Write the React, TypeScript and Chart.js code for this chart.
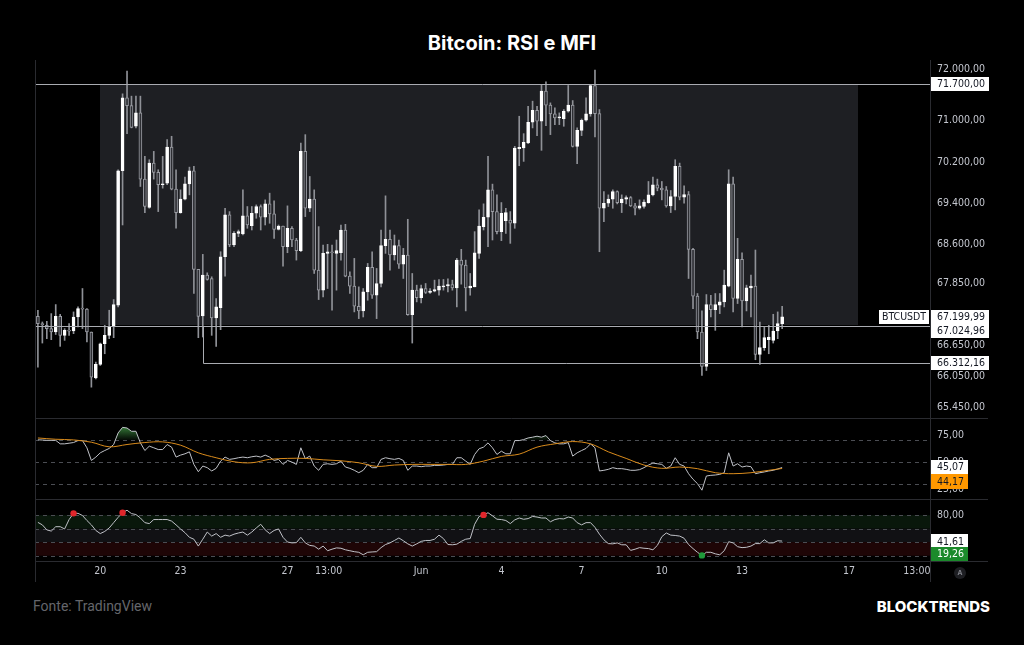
import React, { useEffect, useRef } from 'react';
import { Chart, registerables } from 'chart.js';

Chart.register(...registerables);

// ---------- DATA (4h candles, hour offset from 17 May 00:00) ----------
const START_HOUR = 16;
const STEP_HOURS = 4;

const opens = [
  67212, 67070, 67037, 66973, 66908, 67212, 66843, 66940, 66927, 67199,
  67361, 67350, 66908, 66021, 66280, 66681, 66843, 67018, 67426, 70030,
  71441, 71292, 70891, 71150, 69868, 69320, 70178, 69997, 69758, 69790,
  70489, 69673, 69220, 69479, 69777, 70030, 68119, 67219, 68009, 67944,
  67180, 67381, 68365, 69175, 68592, 68818, 68805, 69155, 68967, 69207,
  69337, 69129, 69389, 69194, 68896, 68961, 68559, 68916, 68689, 68482,
  70405, 69304, 69479, 68106, 67718, 68430, 68462, 68430, 68443, 68883,
  67990, 67795, 67407, 67316, 67685, 68158, 67620, 67847, 68579, 68702,
  68398, 68579, 68223, 68398, 67245, 67718, 67575, 67750, 67672, 67698,
  67718, 67782, 67802, 67828, 67763, 68300, 68203, 67763, 67782, 68430,
  68948, 69129, 69660, 69239, 68851, 69064, 69077, 69013, 70457, 70470,
  70567, 70969, 71202, 70988, 71571, 71299, 71130, 71053, 71040, 71182,
  71299, 70502, 70813, 71008, 71130, 71681, 71137, 69304, 69401, 69479,
  69628, 69414, 69479, 69511, 69350, 69304, 69337, 69414, 69563, 69758,
  69693, 69660, 69350, 69531, 70114, 69518, 69570, 68508, 67601, 66908,
  66241, 67439, 67342, 67426, 67491, 67795, 69777, 67556, 68313, 67510,
  67763, 67795, 66474, 66604, 66759, 66746, 66927, 67070,
];
const highs = [
  67329, 67102, 67115, 67264, 67439, 67250, 66973, 67070, 67297, 67394,
  67750, 67361, 66908, 66325, 66694, 67037, 67329, 67536, 70049, 71519,
  71959, 71474, 71474, 71474, 70308, 70243, 70405, 70049, 70308, 70632,
  70697, 70049, 69660, 69906, 70100, 70114, 68119, 68411, 68054, 67977,
  67556, 68462, 69304, 69239, 68851, 68883, 69660, 69337, 69337, 69369,
  69369, 69466, 69596, 69447, 68980, 68961, 69350, 68948, 68721, 70567,
  70729, 69919, 69660, 68948, 68592, 68605, 68592, 68689, 68980, 68993,
  68074, 68333, 67782, 67750, 68236, 68462, 68139, 68883, 69544, 68883,
  68786, 68689, 68527, 69090, 68041, 67815, 67815, 67847, 67750, 67912,
  67925, 67925, 67938, 67912, 68333, 68508, 68300, 68041, 68851, 69272,
  69389, 70308, 69771, 69563, 69414, 69304, 69239, 70502, 71085, 70748,
  71279, 71377, 71279, 71700, 71752, 71344, 71247, 71150, 71215, 71681,
  71389, 70859, 71033, 71441, 71700, 71979, 71215, 69628, 69563, 69660,
  69641, 69563, 69544, 69531, 69401, 69466, 69466, 69822, 69906, 69868,
  69822, 69725, 69647, 70243, 70178, 69738, 69628, 68527, 67653, 67316,
  67633, 67620, 67653, 67653, 68106, 70049, 69906, 68721, 68443, 67815,
  68009, 68495, 67102, 67005, 67037, 67251, 67297, 67407,
];
const lows = [
  66228, 66694, 66779, 66759, 66860, 66630, 66746, 66843, 66876, 67005,
  66973, 66714, 65840, 66001, 66260, 66487, 66779, 66798, 67394, 68980,
  70748, 70860, 70860, 69725, 69220, 69304, 69868, 69239, 69693, 69758,
  69660, 68916, 69207, 69466, 69563, 67653, 66798, 66811, 67912, 66843,
  66630, 66953, 67990, 68559, 68559, 68754, 68786, 68916, 68883, 69110,
  68883, 68980, 69013, 68721, 68883, 68184, 68443, 68559, 68300, 68462,
  69142, 69239, 68041, 67536, 67588, 67750, 67329, 67718, 68300, 67977,
  67653, 67297, 67167, 67199, 67523, 67556, 67167, 67782, 68430, 68106,
  68300, 68139, 67944, 67232, 66694, 67491, 67470, 67653, 67653, 67685,
  67620, 67718, 67685, 67718, 67394, 67834, 67316, 67620, 67782, 68333,
  68883, 68559, 68689, 68805, 68676, 68818, 68624, 68916, 70127, 70211,
  70554, 70859, 70709, 70425, 70904, 70729, 70923, 70923, 70891, 71163,
  70489, 70165, 70710, 70988, 71085, 70684, 68462, 69045, 69337, 69304,
  69388, 69220, 69388, 69337, 69175, 69285, 69304, 69401, 69544, 69641,
  69466, 69324, 69220, 69272, 69466, 69401, 67944, 67361, 66779, 66066,
  66163, 67199, 66940, 67264, 67394, 67782, 67297, 67459, 67005, 67316,
  67199, 66371, 66280, 66552, 66487, 66694, 66779, 66973,
];
const closes = [
  67070, 67050, 66973, 66908, 67212, 66843, 66940, 66925, 67199, 67361,
  67350, 66908, 66034, 66280, 66681, 66843, 67018, 67439, 70030, 71441,
  71292, 70870, 71150, 69868, 69337, 70178, 69997, 69758, 69777, 70489,
  69673, 69220, 69479, 69777, 70030, 68119, 67212, 68009, 67925, 67180,
  67394, 68365, 69175, 68592, 68818, 68851, 69155, 68980, 69207, 69337,
  69129, 69389, 69194, 68896, 68961, 68559, 68916, 68689, 68482, 70405,
  69304, 69479, 68106, 67718, 68430, 68462, 68443, 68482, 68883, 67990,
  67795, 67407, 67316, 67685, 68158, 67620, 67847, 68579, 68702, 68398,
  68579, 68223, 68398, 67245, 67718, 67575, 67750, 67672, 67698, 67730,
  67795, 67802, 67828, 67763, 68300, 68203, 67763, 67795, 68443, 68961,
  69129, 69660, 69239, 68851, 69207, 69220, 69013, 70470, 70483, 70580,
  70969, 71202, 70988, 71571, 71299, 71130, 71053, 71072, 71182, 71299,
  70502, 70813, 71008, 71130, 71681, 71137, 69304, 69401, 69479, 69628,
  69414, 69479, 69511, 69350, 69304, 69350, 69421, 69563, 69758, 69693,
  69660, 69350, 69531, 70114, 69518, 69570, 68508, 67601, 66908, 66241,
  67439, 67342, 67439, 67491, 67815, 69777, 67556, 68313, 67510, 67763,
  67795, 66474, 66604, 66798, 66811, 66927, 67070, 67199.99,
];

const rsiValues = [
  70.4, 70.2, 69.9, 69.9, 69.9, 66.7, 66.7, 67.3, 67.9, 69.7,
  69.7, 63.1, 51.5, 54.6, 58.5, 60.6, 62.5, 66.1, 76.7, 81.8,
  81.2, 78.2, 78.2, 67.6, 60.6, 64.6, 63.1, 61.5, 61.5, 66.1,
  63.7, 54.6, 56.4, 57.6, 59.4, 47.9, 41.2, 46.4, 44.9, 41.9,
  44.3, 50.9, 54.6, 52.5, 53.1, 54.0, 54.6, 54.0, 54.9, 55.5,
  54.6, 56.4, 54.6, 51.5, 52.5, 47.9, 51.5, 50.0, 47.9, 63.1,
  53.1, 55.5, 46.4, 42.5, 47.9, 48.5, 47.9, 48.5, 50.9, 45.5,
  44.3, 42.5, 40.3, 42.5, 47.9, 44.9, 44.9, 52.5, 54.0, 53.1,
  52.5, 53.4, 51.5, 42.5, 46.4, 46.4, 45.8, 46.4, 46.4, 47.0,
  47.0, 47.3, 47.9, 47.9, 54.0, 54.0, 50.9, 47.9, 57.0, 62.2,
  63.7, 67.6, 63.1, 57.0, 60.0, 57.6, 57.6, 69.7, 69.7, 70.6,
  72.1, 72.8, 73.7, 72.8, 74.3, 69.7, 67.6, 66.7, 66.7, 67.9,
  55.5, 58.5, 60.6, 62.5, 66.7, 63.1, 41.9, 42.5, 43.4, 44.9,
  44.0, 44.0, 43.4, 42.5, 42.5, 43.1, 44.9, 47.3, 49.1, 48.5,
  47.9, 44.3, 46.4, 54.0, 47.9, 46.4, 39.4, 34.3, 30.3, 24.3,
  37.3, 37.9, 38.2, 38.8, 40.3, 58.5, 46.4, 48.5, 45.5, 46.4,
  45.8, 39.4, 40.3, 41.0, 41.9, 42.5, 43.7, 45.07,
];
const rsiMaIndex = [
  0, 4, 8, 12, 16, 20, 24, 28, 32, 36, 40, 44, 48, 52, 56, 60, 64, 68, 72, 76, 80,
  84, 88, 92, 96, 100, 104, 108, 112, 116, 120, 124, 128, 132, 136, 140, 144, 148,
  152, 156, 160, 164, 167,
];
const rsiMaValues = [
  72.1, 70.9, 70.3, 68.2, 64.0, 66.1, 67.9, 68.5, 65.5, 58.5, 54.0, 50.3, 49.4, 52.5,
  53.4, 53.4, 52.1, 51.2, 49.4, 46.1, 47.3, 47.9, 47.9, 47.9, 47.9, 50.9, 55.2, 57.3,
  63.7, 66.7, 68.8, 66.7, 59.4, 53.4, 47.3, 44.3, 45.5, 44.0, 40.3, 39.4, 40.3, 42.5,
  44.17,
];
const mfiValues = [
  69.3, 65.6, 58.2, 56.4, 62.9, 62.9, 59.6, 73.5, 82.7, 82.7,
  79.5, 72.1, 65.6, 57.3, 52.7, 55.9, 61.0, 68.9, 76.7, 83.6,
  87.3, 82.3, 80.9, 75.8, 68.9, 67.5, 73.5, 73.5, 73.5, 73.5,
  71.2, 65.6, 59.6, 54.1, 47.2, 44.4, 34.2, 44.4, 55.0, 49.0,
  52.7, 47.2, 50.4, 49.0, 51.8, 53.6, 55.0, 50.4, 55.0, 61.0,
  66.5, 58.2, 52.7, 57.3, 59.6, 47.2, 40.2, 38.9, 39.3, 47.2,
  38.9, 35.2, 34.2, 29.6, 34.2, 27.3, 29.6, 31.5, 31.0, 28.7,
  27.3, 25.9, 25.0, 21.3, 25.0, 25.5, 25.9, 31.9, 36.5, 38.9,
  42.5, 46.2, 42.1, 37.5, 34.2, 37.5, 41.2, 42.5, 42.5, 44.4,
  50.4, 45.3, 36.5, 36.1, 37.0, 41.2, 44.4, 45.3, 66.5, 78.1,
  80.4, 83.6, 79.0, 74.0, 73.5, 72.1, 67.5, 73.0, 75.8, 73.9,
  74.9, 78.1, 77.2, 75.8, 75.8, 70.2, 73.5, 74.9, 74.4, 77.2,
  75.8, 68.9, 65.6, 68.9, 68.9, 61.9, 51.8, 43.5, 37.9, 37.5,
  38.9, 36.1, 36.1, 27.8, 29.6, 31.9, 31.0, 30.5, 28.7, 35.2,
  48.1, 53.6, 50.4, 49.9, 49.0, 45.8, 36.5, 30.5, 25.0, 20.4,
  25.0, 25.0, 22.7, 21.3, 27.3, 40.7, 38.9, 33.3, 31.9, 32.4,
  34.2, 37.9, 37.9, 43.5, 38.9, 38.9, 42.1, 41.61,
];
const mfiSellSignals = [8, 19, 100];
const mfiBuySignals = [149];

const priceTicks = [72000, 71000, 70200, 69400, 68600, 67850, 66650, 66050, 65450];
const rsiTicks = [75, 50, 25];
const rsiLevels = [70, 50, 30];
const mfiTicks = [80];
const mfiLevels = [80, 60, 40, 20];
const xTickHours = [72, 144, 240, 277, 360, 432, 504, 576, 648, 744, 805];
const xTickLabels = ['20', '23', '27', '13:00', 'Jun', '4', '7', '10', '13', '17', '13:00'];

const levelTop = 71700;
const levelMid = 67024.96;
const levelLow = 66312.16;
const lastPrice = 67199.99;
const rangeStartHour = 72;
const rangeEndHour = 752;
const lowLineStartHour = 164;
const rsiLast = 45.07;
const rsiMaLast = 44.17;
const mfiLast = 41.61;
const mfiSignalValue = 19.26;

// ---------- STYLE ----------
const X_MIN = 13.4;
const X_MAX = 816.7;
const PLOT_LEFT = 35;
const AXIS_W = 94;
const TEXT = '#c3c6ce';
const SEP = '#2a2b30';
const FONT_FAMILY = '"DejaVu Sans Condensed", "Liberation Sans", Arial, sans-serif';
const AXIS_FONT = { family: FONT_FAMILY, size: 10.5 };

const candleHours = opens.map((_, i) => START_HOUR + STEP_HOURS * i);

function fmt(v: number): string {
  const fixed = Math.abs(v).toFixed(2);
  const [intPart, dec] = fixed.split('.');
  const withSep = intPart.replace(/\B(?=(\d{3})+(?!\d))/g, '.');
  return (v < 0 ? '-' : '') + withSep + ',' + dec;
}

function drawBox(ctx: CanvasRenderingContext2D, x: number, y: number, w: number, h: number, bg: string, fg: string, text: string, center = false) {
  ctx.fillStyle = bg;
  ctx.fillRect(x, y, w, h);
  ctx.fillStyle = fg;
  ctx.font = `10.5px ${FONT_FAMILY}`;
  ctx.textBaseline = 'middle';
  ctx.textAlign = center ? 'center' : 'left';
  ctx.fillText(text, center ? x + w / 2 : x + 6, y + h / 2 + 0.5);
}

function frameLines(ctx: CanvasRenderingContext2D, chart: any, bottomExt: number) {
  const { chartArea } = chart;
  ctx.save();
  ctx.strokeStyle = SEP;
  ctx.lineWidth = 1;
  ctx.beginPath();
  const l = Math.round(chartArea.left) + 0.5;
  const r = Math.round(chartArea.right) + 0.5;
  ctx.moveTo(l, 0);
  ctx.lineTo(l, bottomExt);
  ctx.moveTo(r, 0);
  ctx.lineTo(r, bottomExt);
  ctx.stroke();
  ctx.restore();
}

function hSep(ctx: CanvasRenderingContext2D, y: number, x0: number, x1: number) {
  ctx.save();
  ctx.strokeStyle = SEP;
  ctx.lineWidth = 1;
  ctx.beginPath();
  ctx.moveTo(x0, Math.round(y) + 0.5);
  ctx.lineTo(x1, Math.round(y) + 0.5);
  ctx.stroke();
  ctx.restore();
}

function dashedLevels(chart: any, levels: number[]) {
  const { ctx, chartArea, scales } = chart;
  ctx.save();
  ctx.strokeStyle = '#4b4d53';
  ctx.lineWidth = 1;
  ctx.setLineDash([4, 4]);
  levels.forEach((v) => {
    const y = Math.round(scales.y.getPixelForValue(v)) + 0.5;
    ctx.beginPath();
    ctx.moveTo(chartArea.left, y);
    ctx.lineTo(chartArea.right, y);
    ctx.stroke();
  });
  ctx.restore();
}

const pricePlugin = {
  id: 'priceDecor',
  beforeDatasetsDraw(chart: any) {
    const { ctx, scales } = chart;
    const x0 = scales.x.getPixelForValue(rangeStartHour);
    const x1 = scales.x.getPixelForValue(rangeEndHour);
    const y0 = scales.y.getPixelForValue(levelTop);
    const y1 = scales.y.getPixelForValue(levelMid);
    ctx.save();
    ctx.fillStyle = '#1e1f23';
    ctx.fillRect(Math.round(x0), Math.round(y0), Math.round(x1 - x0), Math.round(y1 - y0));
    ctx.restore();
  },
  afterDatasetsDraw(chart: any) {
    const { ctx, chartArea, scales } = chart;
    const yt = Math.round(scales.y.getPixelForValue(levelTop)) + 0.5;
    const ym = Math.round(scales.y.getPixelForValue(levelMid)) + 0.5;
    const yl = Math.round(scales.y.getPixelForValue(levelLow)) + 0.5;
    const xl = Math.round(scales.x.getPixelForValue(lowLineStartHour)) + 0.5;
    ctx.save();
    ctx.strokeStyle = '#a9abb1';
    ctx.lineWidth = 1;
    ctx.beginPath();
    ctx.moveTo(chartArea.left, yt);
    ctx.lineTo(chartArea.right, yt);
    ctx.moveTo(chartArea.left, ym);
    ctx.lineTo(chartArea.right, ym);
    ctx.moveTo(xl, ym);
    ctx.lineTo(xl, yl);
    ctx.lineTo(chartArea.right, yl);
    ctx.stroke();
    ctx.restore();
  },
  afterDraw(chart: any) {
    const { ctx, chartArea, scales } = chart;
    frameLines(ctx, chart, chart.height);
    const boxes = [
      { v: levelTop, text: fmt(levelTop), sym: false },
      { v: lastPrice, text: fmt(lastPrice), sym: true },
      { v: levelMid, text: fmt(levelMid), sym: false },
      { v: levelLow, text: fmt(levelLow), sym: false },
    ];
    const h = 14;
    let prevBottom = -Infinity;
    const x = Math.round(chartArea.right) + 1;
    boxes.forEach((b) => {
      let top = Math.round(scales.y.getPixelForValue(b.v) - h / 2);
      if (top < prevBottom) top = prevBottom;
      drawBox(ctx, x, top, 58, h, '#ffffff', '#131722', b.text);
      if (b.sym) drawBox(ctx, x - 52, top, 50, h, '#ffffff', '#131722', 'BTCUSDT', true);
      prevBottom = top + h;
    });
  },
};

const rsiPlugin = {
  id: 'rsiDecor',
  beforeDatasetsDraw(chart: any) {
    dashedLevels(chart, rsiLevels);
  },
  afterDraw(chart: any) {
    const { ctx, chartArea, scales } = chart;
    frameLines(ctx, chart, chart.height);
    hSep(ctx, 0, chartArea.left, 988);
    const x = Math.round(chartArea.right) + 1;
    const h = 14;
    const t1 = Math.round(scales.y.getPixelForValue(rsiLast) - h / 2);
    drawBox(ctx, x, t1, 37, h, '#ffffff', '#131722', fmt(rsiLast));
    let t2 = Math.round(scales.y.getPixelForValue(rsiMaLast) - h / 2);
    if (t2 < t1 + h) t2 = t1 + h;
    drawBox(ctx, x, t2, 37, h + 1, '#ff9800', '#131722', fmt(rsiMaLast));
  },
};

const mfiPlugin = {
  id: 'mfiDecor',
  beforeDatasetsDraw(chart: any) {
    const { ctx, chartArea, scales } = chart;
    const y = (v: number) => scales.y.getPixelForValue(v);
    ctx.save();
    const w = chartArea.right - chartArea.left;
    ctx.fillStyle = '#09170b';
    ctx.fillRect(chartArea.left, y(80), w, y(60) - y(80));
    ctx.fillStyle = '#111114';
    ctx.fillRect(chartArea.left, y(60), w, y(40) - y(60));
    ctx.fillStyle = '#1e0506';
    ctx.fillRect(chartArea.left, y(40), w, y(20) - y(40));
    ctx.restore();
    dashedLevels(chart, mfiLevels);
  },
  afterDraw(chart: any) {
    const { ctx, chartArea, scales } = chart;
    frameLines(ctx, chart, chartArea.bottom + 21);
    hSep(ctx, 0, chartArea.left, 988);
    hSep(ctx, chartArea.bottom, chartArea.left, 988);
    const x = Math.round(chartArea.right) + 1;
    const h = 14;
    const t1 = Math.round(scales.y.getPixelForValue(mfiLast) - h / 2);
    drawBox(ctx, x, t1, 37, h + 1, '#ffffff', '#131722', fmt(mfiLast));
    let t2 = Math.round(scales.y.getPixelForValue(mfiSignalValue) - h / 2);
    if (t2 < t1 + h + 1) t2 = t1 + h + 1;
    if (t2 + h > chartArea.bottom) t2 = Math.round(chartArea.bottom) - h;
    drawBox(ctx, x, t2, 37, h, '#1b8a2b', '#ffffff', fmt(mfiSignalValue));
    // auto-scale button
    ctx.save();
    ctx.fillStyle = '#1d1e22';
    ctx.beginPath();
    ctx.arc(960, chartArea.bottom + 12, 6, 0, Math.PI * 2);
    ctx.fill();
    ctx.fillStyle = '#7d7f86';
    ctx.font = `bold 7px ${FONT_FAMILY}`;
    ctx.textAlign = 'center';
    ctx.textBaseline = 'middle';
    ctx.fillText('A', 960, chartArea.bottom + 12.5);
    ctx.restore();
  },
};

const yAxisBase = (min: number, max: number, ticks: number[]) => ({
  position: 'right' as const,
  min,
  max,
  bounds: 'data' as const,
  grid: { display: false, drawTicks: false },
  border: { display: false },
  ticks: { color: TEXT, font: AXIS_FONT, padding: 7, callback: (v: any) => fmt(Number(v)) },
  afterBuildTicks: (s: any) => {
    s.ticks = ticks.map((v) => ({ value: v }));
  },
  afterFit: (s: any) => {
    s.width = AXIS_W;
    s.paddingTop = 0;
    s.paddingBottom = 0;
  },
});

const commonOptions = {
  responsive: false,
  animation: false as const,
  events: [] as any[],
  layout: { padding: { left: PLOT_LEFT, right: 0, top: 0, bottom: 0 } },
  plugins: { legend: { display: false }, tooltip: { enabled: false } },
};

export default function App() {
  const priceRef = useRef<HTMLCanvasElement>(null);
  const rsiRef = useRef<HTMLCanvasElement>(null);
  const mfiRef = useRef<HTMLCanvasElement>(null);

  useEffect(() => {
    document.body.style.margin = '0';
    document.body.style.background = '#000';

    const bull = opens.map((o, i) => closes[i] >= o);
    const price = new Chart(priceRef.current!, {
      type: 'bar',
      data: {
        datasets: [
          {
            data: candleHours.map((h, i) => ({ x: h, y: [opens[i], closes[i]] })) as any,
            backgroundColor: bull.map((b) => (b ? '#ffffff' : '#2d2e33')),
            borderColor: bull.map((b) => (b ? '#ffffff' : '#9a9ca3')),
            borderWidth: 1,
            borderSkipped: false,
            barThickness: 3,
            grouped: false,
            minBarLength: 1,
            order: 0,
          },
          {
            data: candleHours.map((h, i) => ({ x: h, y: [lows[i], highs[i]] })) as any,
            backgroundColor: '#8f9197',
            borderWidth: 0,
            barThickness: 1,
            grouped: false,
            order: 1,
          },
        ],
      },
      options: {
        ...commonOptions,
        scales: {
          x: { type: 'linear', min: X_MIN, max: X_MAX, display: false, offset: false },
          y: yAxisBase(65243, 72174, priceTicks),
        },
      } as any,
      plugins: [pricePlugin],
    });

    const rsi = new Chart(rsiRef.current!, {
      type: 'line',
      data: {
        datasets: [
          {
            data: rsiMaIndex.map((k, j) => ({ x: candleHours[k], y: rsiMaValues[j] })),
            borderColor: '#d98b1c',
            borderWidth: 1,
            pointRadius: 0,
            fill: false,
            tension: 0.35,
          },
          {
            data: candleHours.map((h, i) => ({ x: h, y: rsiValues[i] })),
            borderColor: '#bfc1c7',
            borderWidth: 1,
            pointRadius: 0,
            tension: 0,
            fill: { target: { value: 70 }, above: 'rgba(60,150,70,0.5)', below: 'rgba(0,0,0,0)' },
          },
        ],
      },
      options: {
        ...commonOptions,
        scales: {
          x: { type: 'linear', min: X_MIN, max: X_MAX, display: false, offset: false },
          y: yAxisBase(16.7, 89.9, rsiTicks),
        },
      } as any,
      plugins: [rsiPlugin],
    });
    const ys = rsi.scales.y;
    const grad = rsi.ctx.createLinearGradient(0, ys.getPixelForValue(84), 0, ys.getPixelForValue(70));
    grad.addColorStop(0, 'rgba(76,175,80,0.8)');
    grad.addColorStop(1, 'rgba(76,175,80,0.05)');
    (rsi.data.datasets[1] as any).fill.above = grad;
    rsi.update('none');

    const mfi = new Chart(mfiRef.current!, {
      type: 'line',
      data: {
        datasets: [
          {
            data: mfiSellSignals.map((k) => ({ x: candleHours[k], y: mfiValues[k] })),
            showLine: false,
            pointRadius: 3.2,
            pointBackgroundColor: '#e0262b',
            pointBorderWidth: 0,
            borderColor: 'rgba(0,0,0,0)',
          },
          {
            data: mfiBuySignals.map((k) => ({ x: candleHours[k], y: mfiValues[k] })),
            showLine: false,
            pointRadius: 3.2,
            pointBackgroundColor: '#1f9a3a',
            pointBorderWidth: 0,
            borderColor: 'rgba(0,0,0,0)',
          },
          {
            data: candleHours.map((h, i) => ({ x: h, y: mfiValues[i] })),
            borderColor: '#bfc1c7',
            borderWidth: 1,
            pointRadius: 0,
            tension: 0,
            fill: false,
          },
        ],
      },
      options: {
        ...commonOptions,
        scales: {
          x: {
            type: 'linear',
            min: X_MIN,
            max: X_MAX,
            offset: false,
            grid: { display: false, drawTicks: false },
            border: { display: false },
            ticks: {
              color: TEXT,
              font: AXIS_FONT,
              padding: 4,
              autoSkip: false,
              maxRotation: 0,
              callback: (_v: any, i: number) => xTickLabels[i],
            },
            afterBuildTicks: (s: any) => {
              s.ticks = xTickHours.map((v) => ({ value: v }));
            },
            afterFit: (s: any) => {
              s.height = 29;
              s.paddingLeft = 0;
              s.paddingRight = 0;
            },
          },
          y: yAxisBase(12.1, 98.0, mfiTicks),
        },
      } as any,
      plugins: [mfiPlugin],
    });

    return () => {
      price.destroy();
      rsi.destroy();
      mfi.destroy();
    };
  }, []);

  const abs = (top: number, height: number): React.CSSProperties => ({
    position: 'absolute',
    left: 0,
    top,
    width: 1024,
    height,
  });

  return (
    <div
      style={{
        position: 'fixed',
        left: 0,
        top: 0,
        width: 1024,
        height: 645,
        background: '#000',
        overflow: 'hidden',
      }}
    >
      <div
        style={{
          position: 'absolute',
          top: 30,
          left: 0,
          width: 1024,
          textAlign: 'center',
          color: '#ffffff',
          fontFamily: 'Inter, "Noto Sans", sans-serif',
          fontWeight: 700,
          fontSize: 20,
          lineHeight: '26px',
        }}
      >
        Bitcoin: RSI e MFI
      </div>
      <canvas ref={priceRef} width={1024} height={358} style={abs(60, 358)} />
      <canvas ref={rsiRef} width={1024} height={81} style={abs(418, 81)} />
      <canvas ref={mfiRef} width={1024} height={91} style={abs(499, 91)} />
      <div
        style={{
          position: 'absolute',
          top: 598,
          left: 33,
          color: '#65666b',
          fontFamily: 'Roboto, "Noto Sans", sans-serif',
          fontSize: 14,
          lineHeight: '16px',
        }}
      >
        Fonte: TradingView
      </div>
      <div
        style={{
          position: 'absolute',
          top: 598,
          right: 34,
          color: '#ffffff',
          fontFamily: 'Inter, "Noto Sans", sans-serif',
          fontWeight: 800,
          fontSize: 15,
          lineHeight: '18px',
        }}
      >
        BLOCKTRENDS
      </div>
    </div>
  );
}
